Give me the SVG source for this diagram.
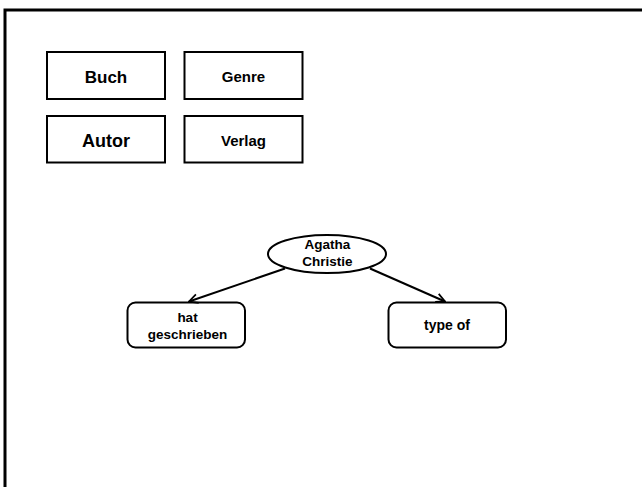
<svg xmlns="http://www.w3.org/2000/svg" width="642" height="487" viewBox="0 0 642 487">
  <style>
    .box { fill: #fff; stroke: #000; stroke-width: 2; }
    .t { font-family: "Liberation Sans", Arial, sans-serif; font-weight: bold; fill: #000; text-anchor: middle; }
    .edge { stroke: #000; stroke-width: 2; fill: none; marker-end: url(#open); }
  </style>
  <defs>
    <marker id="open" viewBox="0 0 10 10" refX="9" refY="5" markerWidth="5.5" markerHeight="5.5" orient="auto" markerUnits="strokeWidth">
      <path d="M1,1 L9,5 L1,9" fill="none" stroke="#000" stroke-width="1.6"/>
    </marker>
  </defs>
  <rect width="642" height="487" fill="#fff"/>
  <!-- outer frame, running off the right and bottom edges -->
  <path d="M5,487 L5,10 L642,10" fill="none" stroke="#000" stroke-width="3"/>

  <g id="buch">
    <rect class="box" x="47" y="52" width="118" height="47"/>
    <text class="t" x="106" y="82.5" font-size="17">Buch</text>
  </g>
  <g id="genre">
    <rect class="box" x="184.5" y="52" width="118" height="47"/>
    <text class="t" x="243.5" y="81.5" font-size="15">Genre</text>
  </g>
  <g id="autor">
    <rect class="box" x="47" y="116" width="118" height="46.5"/>
    <text class="t" x="106" y="146.5" font-size="18">Autor</text>
  </g>
  <g id="verlag">
    <rect class="box" x="184.5" y="116" width="118" height="46.5"/>
    <text class="t" x="243.5" y="145.5" font-size="15">Verlag</text>
  </g>

  <g id="agatha">
    <ellipse class="box" cx="327" cy="254" rx="59" ry="19"/>
    <text class="t" x="327.5" y="249.3" font-size="13.5">Agatha</text>
    <text class="t" x="327.5" y="266" font-size="13.5">Christie</text>
  </g>
  <g id="hat-geschrieben">
    <rect class="box" x="127.5" y="302.5" width="117.5" height="45" rx="8"/>
    <text class="t" x="187.5" y="321.7" font-size="13.5">hat</text>
    <text class="t" x="187.5" y="339.3" font-size="13.5">geschrieben</text>
  </g>
  <g id="type-of">
    <rect class="box" x="388.5" y="302.5" width="117.5" height="45" rx="8"/>
    <text class="t" x="447" y="330" font-size="14">type of</text>
  </g>

  <g id="connectors">
    <line class="edge" x1="285" y1="268.5" x2="189" y2="301.5"/>
    <line class="edge" x1="370" y1="268.5" x2="445" y2="301.5"/>
  </g>
</svg>
